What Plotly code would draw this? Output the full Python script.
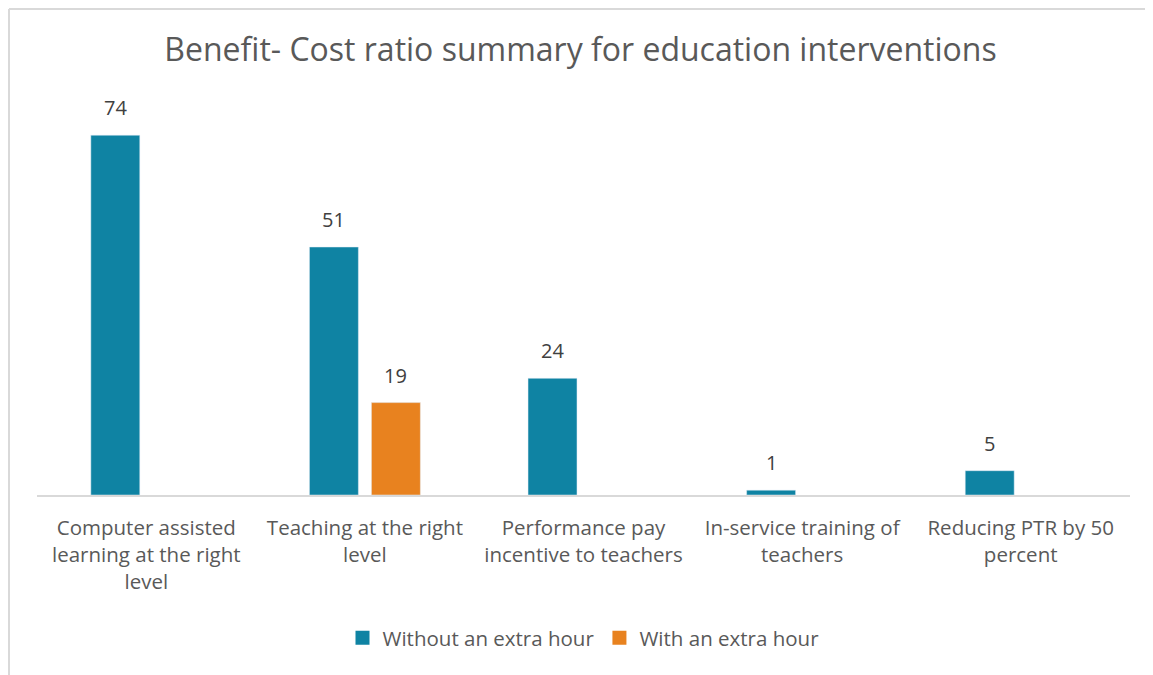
import plotly.graph_objects as go

categories = [
    "Computer assisted<br>learning at the right<br>level",
    "Teaching at the right<br>level",
    "Performance pay<br>incentive to teachers",
    "In-service training of<br>teachers",
    "Reducing PTR by 50<br>percent",
]
series_names = ["Without an extra hour", "With an extra hour"]
without_extra = [74, 51, 24, 1, 5]
with_extra = [None, 19, None, None, None]

BLUE = "#0F83A3"
ORANGE = "#E8821F"
FONT = "Open Sans"
TXT = "#595959"

fig = go.Figure()
for name, vals, col in [(series_names[0], without_extra, BLUE),
                        (series_names[1], with_extra, ORANGE)]:
    fig.add_trace(go.Bar(x=categories, y=vals, name=name, marker_color=col,
                         showlegend=False, hoverinfo="x+y"))
    # legend proxy with larger square marker
    fig.add_trace(go.Scatter(x=[None], y=[None], mode="markers", name=name,
                             marker=dict(symbol="square", size=14, color=col)))

# data labels
annotations = []
for vals, shift in [(without_extra, -31), (with_extra, 31)]:
    for c, v in zip(categories, vals):
        if v is None:
            continue
        annotations.append(dict(x=c, y=v, xref="x", yref="y", text=str(v),
                                showarrow=False, xshift=shift, yshift=12,
                                yanchor="bottom",
                                font=dict(size=20, color="#404040", family=FONT)))

W, H = 1145, 667
L, T = 29, 98
pw = 1093
R = W - L - pw
B = 180
ph = H - T - B
by = (H - B - 1) / ph
bx = (1 - L) / pw

fig.update_layout(
    width=W, height=H,
    margin=dict(l=L, r=R, t=T, b=B),
    paper_bgcolor="white", plot_bgcolor="white",
    barmode="group", bargap=0.433, bargroupgap=0.21,
    font=dict(family=FONT, color=TXT),
    title=dict(text="Benefit- Cost ratio summary for education interventions",
               x=0.5, xanchor="center", y=1 - 42 / H, yanchor="middle",
               font=dict(size=32, color=TXT, family=FONT)),
    xaxis=dict(showline=True, linecolor="#D9D9D9", linewidth=1.5,
               ticks="", ticklabelstandoff=14,
               tickfont=dict(size=20.5, color=TXT, family=FONT),
               showgrid=False),
    yaxis=dict(range=[0, 80], visible=False, showgrid=False),
    legend=dict(orientation="h", x=0.5, xanchor="center",
                y=-(630 - (H - B)) / ph, yanchor="middle",
                font=dict(size=20.5, color=TXT, family=FONT),
                traceorder="normal", itemwidth=30),
    annotations=annotations,
    shapes=[
        dict(type="line", xref="paper", yref="paper", x0=bx, x1=bx, y0=by, y1=-2,
             line=dict(color="#D9D9D9", width=2)),
        dict(type="line", xref="paper", yref="paper", x0=bx, x1=2, y0=by, y1=by,
             line=dict(color="#D9D9D9", width=2)),
    ],
)

fig.write_html("out.html")
